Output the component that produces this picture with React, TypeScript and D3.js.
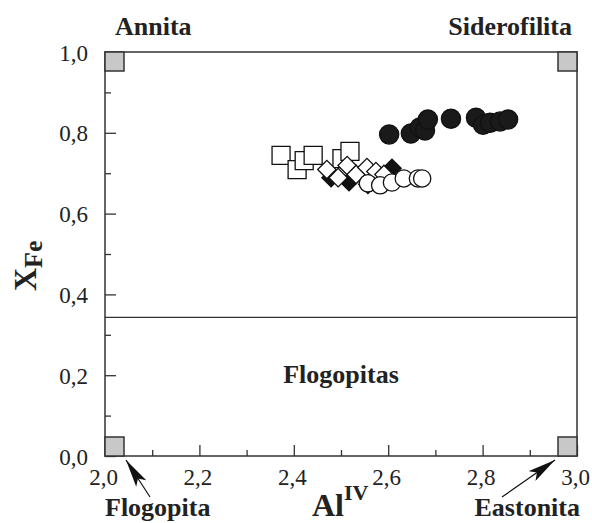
import React, { useEffect, useRef } from 'react';
import * as d3 from 'd3';

// data (Al IV vs X Fe)
const squares: [number, number][] = [
  [2.373, 0.744], [2.407, 0.709], [2.422, 0.731], [2.441, 0.744],
  [2.502, 0.736], [2.519, 0.754],
];
const blackDiamonds: [number, number][] = [
  [2.479, 0.689], [2.517, 0.679], [2.557, 0.672], [2.608, 0.712],
];
const openDiamonds: [number, number][] = [
  [2.470, 0.709], [2.494, 0.689], [2.513, 0.719], [2.532, 0.697],
  [2.555, 0.714], [2.574, 0.704], [2.591, 0.697],
];
const openCircles: [number, number][] = [
  [2.557, 0.675], [2.583, 0.670], [2.608, 0.677], [2.633, 0.687],
  [2.663, 0.687], [2.672, 0.687],
];
const blackCircles: [number, number][] = [
  [2.602, 0.796], [2.648, 0.798], [2.667, 0.813], [2.678, 0.806],
  [2.684, 0.833], [2.733, 0.835], [2.786, 0.837], [2.801, 0.820],
  [2.816, 0.825], [2.837, 0.828], [2.854, 0.833],
];
const endMembers: [number, number][] = [[2, 1], [3, 1], [2, 0], [3, 0]];
const xMajor = [2.0, 2.2, 2.4, 2.6, 2.8, 3.0];
const xMinor = [2.1, 2.3, 2.5, 2.7, 2.9];
const yMajor = [0.0, 0.2, 0.4, 0.6, 0.8, 1.0];
const yMinor = [0.1, 0.3, 0.5, 0.7, 0.9];
const divider = 0.343;

const W = 592;
const H = 523;
const serif = '"Liberation Serif", "Times New Roman", serif';

function App() {
  const ref = useRef<SVGSVGElement>(null);

  useEffect(() => {
    const svg = d3.select(ref.current);
    svg.selectAll('*').remove();

    const left = 105, right = 577, top = 52, bottom = 456;
    const x = d3.scaleLinear().domain([2, 3]).range([left, right]);
    const y = d3.scaleLinear().domain([0, 1]).range([bottom, top]);
    const fmt = (d: any) => d3.format('.1f')(d).replace('.', ',');

    // ticks (inward)
    const styleAxis = (g: any) => {
      g.select('.domain').remove();
      g.selectAll('line').attr('stroke', '#333').attr('stroke-width', 1.3);
      g.selectAll('text').attr('font-family', serif).attr('font-size', 23).attr('fill', '#222');
    };
    svg.append('g').attr('transform', `translate(0,${bottom})`)
      .call(d3.axisBottom(x).tickValues(xMajor).tickSize(-11).tickFormat(fmt))
      .call(styleAxis)
      .selectAll('text').attr('dy', '0').attr('y', 29).attr('x', -2);
    svg.append('g').attr('transform', `translate(0,${bottom})`)
      .call(d3.axisBottom(x).tickValues(xMinor).tickSize(-6).tickFormat(() => ''))
      .call(styleAxis);
    svg.append('g').attr('transform', `translate(${left},0)`)
      .call(d3.axisLeft(y).tickValues(yMajor).tickSize(-11).tickFormat(fmt))
      .call(styleAxis)
      .selectAll('text').attr('x', -17).attr('dy', '0.35em');
    svg.append('g').attr('transform', `translate(${left},0)`)
      .call(d3.axisLeft(y).tickValues(yMinor).tickSize(-6).tickFormat(() => ''))
      .call(styleAxis);

    // frame
    svg.append('rect')
      .attr('x', left).attr('y', top).attr('width', right - left).attr('height', bottom - top)
      .attr('fill', 'none').attr('stroke', '#333').attr('stroke-width', 1.5);

    // divider line
    svg.append('line')
      .attr('x1', left).attr('x2', right).attr('y1', y(divider)).attr('y2', y(divider))
      .attr('stroke', '#333').attr('stroke-width', 1.2);

    // end-member squares in the corners
    const s = 19;
    svg.selectAll('.em').data(endMembers).enter().append('rect')
      .attr('x', d => (d[0] === 2 ? x(d[0]) : x(d[0]) - s))
      .attr('y', d => (d[1] === 1 ? y(d[1]) : y(d[1]) - s))
      .attr('width', s).attr('height', s)
      .attr('fill', '#c8c8c8').attr('stroke', '#333').attr('stroke-width', 1.5);

    const plot = (data: [number, number][], type: any, size: number, fill: string, rot = 0) => {
      svg.append('g').selectAll('path').data(data).enter().append('path')
        .attr('d', d3.symbol().type(type).size(size)())
        .attr('transform', d => `translate(${x(d[0])},${y(d[1])}) rotate(${rot})`)
        .attr('fill', fill).attr('stroke', '#111').attr('stroke-width', 1.3);
    };
    plot(squares, d3.symbolSquare, 324, '#fff');
    plot(blackDiamonds, d3.symbolSquare, 169, '#111', 45);
    plot(openDiamonds, d3.symbolSquare, 169, '#fff', 45);
    plot(openCircles, d3.symbolCircle, 235, '#fff');
    plot(blackCircles, d3.symbolCircle, 290, '#1a1a1a');

    // arrows
    const defs = svg.append('defs');
    defs.append('marker').attr('id', 'head')
      .attr('viewBox', '0 0 28 12').attr('refX', 28).attr('refY', 6)
      .attr('markerWidth', 28).attr('markerHeight', 12).attr('markerUnits', 'userSpaceOnUse')
      .attr('orient', 'auto')
      .append('path').attr('d', 'M0,0 L28,6 L0,12 L6,6 Z').attr('fill', '#111');
    const arrows = [[150, 497, 126, 460], [502, 497, 555, 460]];
    svg.selectAll('.arr').data(arrows).enter().append('line')
      .attr('x1', d => d[0]).attr('y1', d => d[1]).attr('x2', d => d[2]).attr('y2', d => d[3])
      .attr('stroke', '#111').attr('stroke-width', 1.2).attr('marker-end', 'url(#head)');

    // labels
    const label = (t: string, px: number, py: number, anchor: string) =>
      svg.append('text').attr('x', px).attr('y', py).attr('text-anchor', anchor)
        .attr('font-family', serif).attr('font-weight', 'bold').attr('font-size', 26)
        .attr('fill', '#222').text(t);
    label('Annita', 115, 35, 'start');
    label('Siderofilita', 572, 35, 'end');
    label('Flogopitas', 341, 383, 'middle');
    label('Flogopita', 105, 516, 'start');
    label('Eastonita', 580, 516, 'end');

    // axis titles
    const xt = svg.append('text').attr('x', 312).attr('y', 516)
      .attr('font-family', serif).attr('font-weight', 'bold').attr('fill', '#222');
    xt.append('tspan').attr('font-size', 32).text('Al');
    xt.append('tspan').attr('font-size', 22).attr('dy', -16).text('IV');

    const yt = svg.append('text').attr('transform', 'translate(36,291) rotate(-90)')
      .attr('font-family', serif).attr('font-weight', 'bold').attr('fill', '#222');
    yt.append('tspan').attr('font-size', 32).text('X');
    yt.append('tspan').attr('font-size', 26).attr('dy', 6).text('Fe');
  }, []);

  return (
    <svg ref={ref} width={W} height={H}
      style={{ position: 'absolute', left: 0, top: 0, background: '#fff' }} />
  );
}

export default App;
